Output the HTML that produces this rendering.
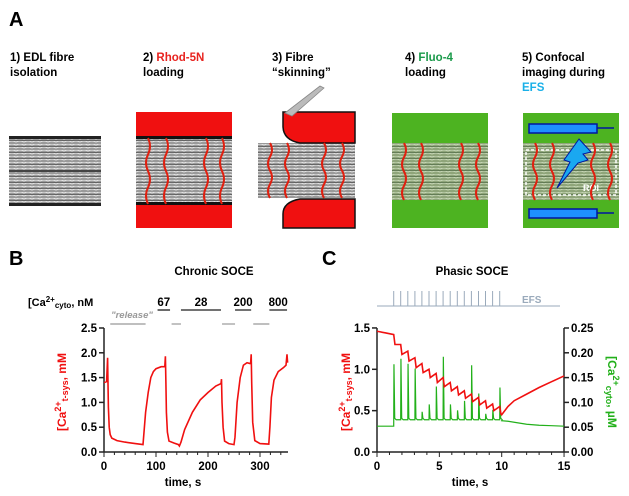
<!DOCTYPE html>
<html><head><meta charset="utf-8">
<style>
html,body{margin:0;padding:0;background:#fff;}
svg{display:block;font-family:"Liberation Sans",Arial,sans-serif;font-weight:bold;}
</style></head>
<body>
<svg id="fig" width="629" height="496" viewBox="0 0 629 496">
<defs>
<pattern id="fib" width="8" height="6" patternUnits="userSpaceOnUse">
<rect width="8" height="6" fill="#9a9a9a"/>
<path d="M0 1 Q4 -1 8 1 M0 4 Q4 2 8 4" stroke="#e8e8e8" stroke-width="1" fill="none"/>
<path d="M0 2.5 H8" stroke="#555" stroke-width="0.8"/>
</pattern>
<pattern id="fibg" width="8" height="6" patternUnits="userSpaceOnUse">
<rect width="8" height="6" fill="#8fa57a"/>
<path d="M0 1 Q4 -1 8 1 M0 4 Q4 2 8 4" stroke="#c8d8b8" stroke-width="1" fill="none"/>
<path d="M0 2.5 H8" stroke="#56704a" stroke-width="0.8"/>
</pattern>
</defs>

<!-- Panel A -->
<g>
<text x="9" y="26" font-size="20">A</text>
<g font-size="11.5">
<text x="10" y="61">1) EDL fibre</text>
<text x="10" y="76">isolation</text>
<text x="143" y="61">2) <tspan fill="#e8231f">Rhod-5N</tspan></text>
<text x="143" y="76">loading</text>
<text x="272" y="61">3) Fibre</text>
<text x="272" y="76">“skinning”</text>
<text x="405" y="61">4) <tspan fill="#1a9a4a">Fluo-4</tspan></text>
<text x="405" y="76">loading</text>
<text x="522" y="61">5) Confocal</text>
<text x="522" y="76">imaging during</text>
<text x="522" y="91" fill="#1ab0e8">EFS</text>
</g>
<!-- fibre 1 -->
<g>
<rect x="9" y="138" width="92" height="67" fill="url(#fib)"/>
<rect x="9" y="136" width="92" height="3" fill="#222"/>
<rect x="9" y="203" width="92" height="3" fill="#222"/>
<rect x="9" y="170" width="92" height="2" fill="#444"/>
</g>
<!-- panel 2 -->
<g>
<rect x="136" y="112" width="96" height="116" fill="#f01010"/>
<rect x="136" y="138" width="96" height="65" fill="url(#fib)"/>
<rect x="136" y="136" width="96" height="3" fill="#111"/>
<rect x="136" y="202" width="96" height="3" fill="#111"/>
</g>
<!-- panel 3 -->
<g>
<rect x="258" y="143" width="97" height="55" fill="url(#fib)"/>
<path d="M283 112 H355 V143 H300 Q283 140 283 126 Z" fill="#f01010" stroke="#111" stroke-width="1.5"/>
<path d="M283 228 H355 V199 H300 Q283 202 283 214 Z" fill="#f01010" stroke="#111" stroke-width="1.5"/>
<path d="M285 113 L320 86 L324 88 L292 116 Z" fill="#bbb" stroke="#888" stroke-width="0.8"/>
</g>
<!-- panel 4 -->
<g>
<rect x="392" y="113" width="96" height="115" fill="#4db321"/>
<rect x="392" y="143" width="96" height="57" fill="url(#fibg)"/>
</g>
<!-- panel 5 -->
<g>
<rect x="523" y="113" width="96" height="115" fill="#4db321"/>
<rect x="523" y="143" width="96" height="57" fill="url(#fibg)"/>
<rect x="529" y="124" width="68" height="9" fill="#1e90ff" stroke="#0016a0" stroke-width="1.5"/>
<line x1="597" y1="128" x2="614" y2="128" stroke="#0016a0" stroke-width="1.5"/>
<rect x="529" y="209" width="68" height="9" fill="#1e90ff" stroke="#0016a0" stroke-width="1.5"/>
<line x1="597" y1="213" x2="614" y2="213" stroke="#0016a0" stroke-width="1.5"/>
<rect x="526" y="150" width="90" height="45" fill="none" stroke="#fff" stroke-width="1.5" stroke-dasharray="3,2"/>
<text x="583" y="191" font-size="9" fill="#fff">ROI</text>
<path d="M579 139 L591 152 L583 154 L588 160 L578 163 L557 188 L570 162 L564 160 L574 146 Z" fill="#1aa8f0" stroke="#0016a0" stroke-width="1"/>
</g>
<g id="tt"></g>
</g>

<!-- Panel B -->
<g>
<text x="9" y="265" font-size="20">B</text>
<text x="214" y="275" font-size="11.5" text-anchor="middle">Chronic SOCE</text>
<text x="28" y="306" font-size="11">[Ca<tspan dy="-4" font-size="8">2+</tspan><tspan dy="6" font-size="8">cyto</tspan><tspan dy="-2">, nM</tspan></text>
<text x="132" y="318" font-size="9.5" fill="#999" font-style="italic" text-anchor="middle">"release"</text>
<g id="bBars"></g>
<g id="bAxes"></g>
<path id="bLine" fill="none" stroke="#f01010" stroke-width="1.6"/>
<text x="183" y="486" font-size="11.5" text-anchor="middle">time, s</text>
<text transform="translate(66,392) rotate(-90)" font-size="12" fill="#f01010" text-anchor="middle">[Ca<tspan dy="-5" font-size="9">2+</tspan><tspan dy="7" font-size="9">t-sys</tspan><tspan dy="-2">, mM</tspan></text>
</g>

<!-- Panel C -->
<g>
<text x="322" y="265" font-size="20">C</text>
<text x="472" y="275" font-size="11.5" text-anchor="middle">Phasic SOCE</text>
<g id="efs"></g>
<text x="522" y="303" font-size="10" fill="#9aaabb">EFS</text>
<g id="cAxes"></g>
<path id="cGreen" fill="none" stroke="#22b01a" stroke-width="1.2"/>
<path id="cRed" fill="none" stroke="#f01010" stroke-width="1.6"/>
<text x="470" y="486" font-size="11.5" text-anchor="middle">time, s</text>
<text transform="translate(350,392) rotate(-90)" font-size="12" fill="#f01010" text-anchor="middle">[Ca<tspan dy="-5" font-size="9">2+</tspan><tspan dy="7" font-size="9">t-sys</tspan><tspan dy="-2">, mM</tspan></text>
<text transform="translate(608,392) rotate(90)" font-size="12" fill="#22b01a" text-anchor="middle">[Ca<tspan dy="-5" font-size="9">2+</tspan><tspan dy="7" font-size="9">cyto</tspan><tspan dy="-2">, µM</tspan></text>
</g>
</svg>
<script>
// ---- Panel B data ----
const bTime = [0,5,7,7.5,8.5,10,12,15,25,40,60,75,77,80,85,90,95,100,110,117,118,119,120,122,125,135,143,145,148,155,170,185,200,215,225,226,227,229,232,240,250,252,256,262,268,275,282,283,284,286,290,300,317,319,322,327,335,345,350,352,353];
const bTsys = [1.4,1.42,1.9,1.5,0.9,0.5,0.35,0.28,0.23,0.2,0.17,0.15,0.4,0.8,1.2,1.5,1.62,1.68,1.72,1.72,1.93,1.4,0.8,0.4,0.22,0.18,0.15,0.12,0.2,0.45,0.8,1.05,1.2,1.33,1.38,1.47,1.0,0.5,0.22,0.17,0.15,0.3,1.0,1.5,1.75,1.8,1.78,1.97,1.4,0.6,0.23,0.17,0.16,0.5,1.1,1.45,1.62,1.7,1.75,1.97,1.8];
const bYTicks = ["0.0","0.5","1.0","1.5","2.0","2.5"];
const bXTicks = [0,100,200,300];
const bConcLabels = ["67","28","200","800"];
const bConcStart = [103,148,252,318];
const bConcEnd = [127,225,283,352];
const bGreyStart = [12,130,227,287];
const bGreyEnd = [80,148,252,318];
// ---- Panel C data ----
const cStim = [1.34,1.9,2.47,3.04,3.6,4.17,4.74,5.3,5.87,6.44,7.0,7.57,8.14,8.7,9.27,9.84];
const cPeak = [0.177,0.188,0.178,0.168,0.081,0.096,0.132,0.192,0.096,0.084,0.103,0.175,0.118,0.077,0.085,0.130];
const cRedPre = [1.42,1.3,1.22,1.14,1.07,1.0,0.95,0.9,0.84,0.79,0.74,0.7,0.66,0.62,0.58,0.55];
const cRedPost = [1.3,1.18,1.1,1.02,0.96,0.9,0.84,0.79,0.74,0.69,0.65,0.61,0.57,0.53,0.5,0.46];
const cRecT = [10.5,11,12,13,14,15];
const cRecV = [0.55,0.62,0.7,0.78,0.85,0.92];
const cGreenTailT = [10.5,11,12,13,14,15];
const cGreenTailV = [0.062,0.06,0.056,0.054,0.053,0.052];
const cYTicksL = ["0.0","0.5","1.0","1.5"];
const cYTicksR = ["0.00","0.05","0.10","0.15","0.20","0.25"];
const cXTicks = [0,5,10,15];

const NS="http://www.w3.org/2000/svg";
function mk(tag,attrs,parent){const e=document.createElementNS(NS,tag);for(const k in attrs)e.setAttribute(k,attrs[k]);parent.appendChild(e);return e;}

// t-tubule red lines in panel A
const tt=document.getElementById('tt');
[[148,138,204],[166,138,204],[206,138,204],[222,138,204],[270,143,198],[287,143,198],[324,143,198],[342,143,198],[404,143,200],[421,143,200],[461,143,200],[478,143,200],[535,143,200],[552,143,200],[593,143,200],[610,143,200]].forEach(a=>{
  const h=(a[2]-a[1])/4;
  const p=mk('path',{d:`M${a[0]} ${a[1]} q4 ${h/2} 0 ${h} q-4 ${h/2} 0 ${h} q4 ${h/2} 0 ${h} q-4 ${h/2} 0 ${h}`,stroke:'#e02010','stroke-width':2,fill:'none'},tt);
  
  
});

// Panel B
const bx=t=>104+t*0.52, by=v=>452-v*49.6;
const bA=document.getElementById('bAxes');
mk('line',{x1:104,y1:328,x2:104,y2:452,stroke:'#222','stroke-width':1.5},bA);
mk('line',{x1:104,y1:452,x2:288,y2:452,stroke:'#222','stroke-width':1.5},bA);
bYTicks.forEach(s=>{const v=parseFloat(s);mk('line',{x1:99,y1:by(v),x2:104,y2:by(v),stroke:'#222','stroke-width':1.5},bA);
 const t=mk('text',{x:97,y:by(v)+4,'font-size':11.5,'text-anchor':'end'},bA);t.textContent=s;
 
 });
for(let t=0;t<=340;t+=20){mk('line',{x1:bx(t),y1:452,x2:bx(t),y2:t%100==0?457:455,stroke:'#222','stroke-width':1},bA);}
bXTicks.forEach(v=>{const t=mk('text',{x:bx(v),y:470,'font-size':11.5,'text-anchor':'middle'},bA);t.textContent=v;
 
 });
document.getElementById('bLine').setAttribute('d',bTime.map((t,i)=>(i?'L':'M')+bx(t).toFixed(1)+' '+by(bTsys[i]).toFixed(1)).join(' '));
const bB=document.getElementById('bBars');
bConcLabels.forEach((s,i)=>{mk('line',{x1:bx(bConcStart[i]),y1:310,x2:bx(bConcEnd[i]),y2:310,stroke:'#444','stroke-width':1.6},bB);
 const t=mk('text',{x:(bx(bConcStart[i])+bx(bConcEnd[i]))/2,y:306,'font-size':11.5,'text-anchor':'middle'},bB);t.textContent=s;
 
 });
bGreyStart.forEach((s,i)=>{const l=mk('line',{x1:bx(s),y1:324,x2:bx(bGreyEnd[i]),y2:324,stroke:'#999','stroke-width':1.2},bB);
 
 });

// Panel C
const cx=t=>377+t*12.47, cy=v=>452-v*82.7, gy=v=>452-v*496;
const cA=document.getElementById('cAxes');
mk('line',{x1:377,y1:328,x2:377,y2:452,stroke:'#222','stroke-width':1.5},cA);
mk('line',{x1:564,y1:328,x2:564,y2:452,stroke:'#222','stroke-width':1.5},cA);
mk('line',{x1:377,y1:452,x2:564,y2:452,stroke:'#222','stroke-width':1.5},cA);
cYTicksL.forEach(s=>{const v=parseFloat(s);mk('line',{x1:372,y1:cy(v),x2:377,y2:cy(v),stroke:'#222','stroke-width':1.5},cA);
 const t=mk('text',{x:370,y:cy(v)+4,'font-size':11.5,'text-anchor':'end'},cA);t.textContent=s;
 
 });
cYTicksR.forEach(s=>{const v=parseFloat(s);mk('line',{x1:564,y1:gy(v),x2:569,y2:gy(v),stroke:'#222','stroke-width':1.5},cA);
 const t=mk('text',{x:571,y:gy(v)+4,'font-size':11.5},cA);t.textContent=s;
 
 });
for(let t=0;t<=15;t++){mk('line',{x1:cx(t),y1:452,x2:cx(t),y2:t%5==0?457:455,stroke:'#222','stroke-width':1},cA);}
cXTicks.forEach(v=>{const t=mk('text',{x:cx(v),y:470,'font-size':11.5,'text-anchor':'middle'},cA);t.textContent=v;
 
 });
// EFS
const ef=document.getElementById('efs');
const efl=mk('line',{x1:377,y1:306,x2:560,y2:306,stroke:'#9aaabb','stroke-width':1},ef);


cStim.forEach(t=>{const l=mk('line',{x1:cx(t),y1:291,x2:cx(t),y2:306,stroke:'#9aaabb','stroke-width':1},ef);
 
 });
// red
let dR=`M${cx(0)} ${cy(1.46)} L${cx(0.7)} ${cy(1.44)}`;
cStim.forEach((t,i)=>{dR+=` L${cx(t)} ${cy(cRedPre[i])} L${cx(t+0.1)} ${cy(cRedPost[i])}`;});
dR+=` L${cx(10)} ${cy(0.45)}`;
cRecT.forEach((t,i)=>{dR+=` L${cx(t)} ${cy(cRecV[i])}`;});
document.getElementById('cRed').setAttribute('d',dR);
// green
let dG=`M${cx(0)} ${gy(0.052)}`;
cStim.forEach((t,i)=>{dG+=` L${cx(t)} ${gy(i?0.065:0.052)} L${cx(t+0.02)} ${gy(cPeak[i])} L${cx(t+0.08)} ${gy(0.068)} L${cx(t+0.2)} ${gy(0.065)}`;});
dG+=` L${cx(10)} ${gy(0.063)}`;
cGreenTailT.forEach((t,i)=>{dG+=` L${cx(t)} ${gy(cGreenTailV[i])}`;});
document.getElementById('cGreen').setAttribute('d',dG);
</script>
</body></html>
